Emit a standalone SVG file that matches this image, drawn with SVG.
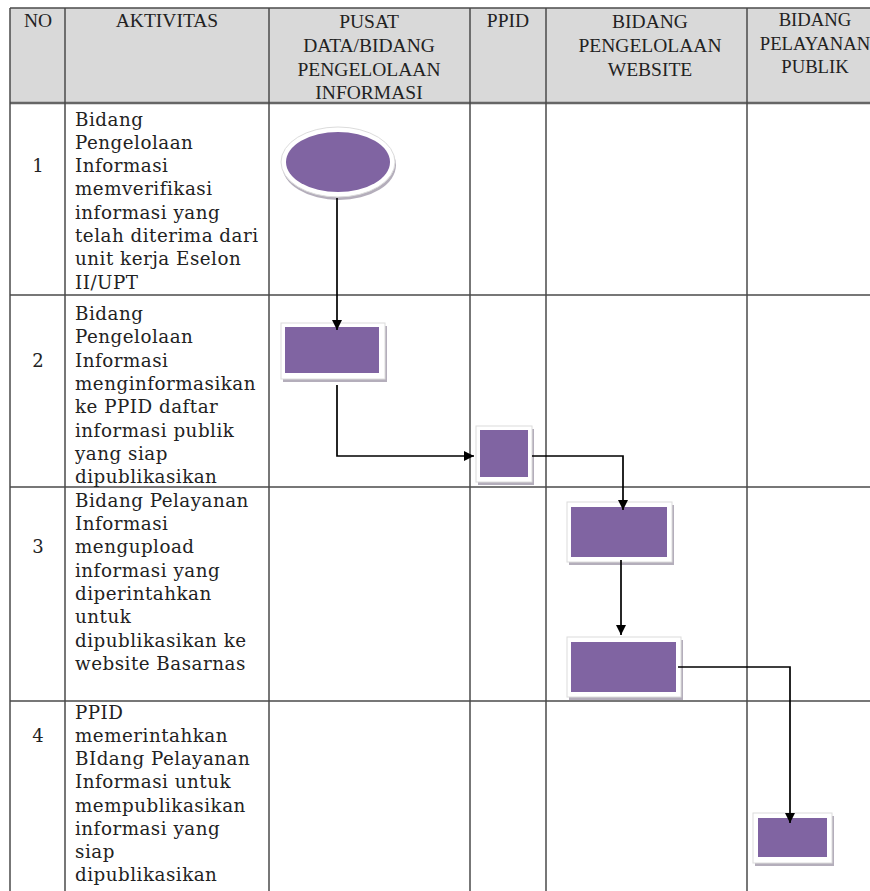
<svg xmlns="http://www.w3.org/2000/svg" width="870" height="891" viewBox="0 0 870 891">
<style>
.grid{stroke:#4a4a4a;stroke-width:1.5;fill:none}
.hd{font-family:"Liberation Serif","Times New Roman",serif;font-size:19.5px;fill:#222;text-anchor:middle}
.hds{font-family:"Liberation Serif","Times New Roman",serif;font-size:18.7px;fill:#222;text-anchor:middle}
.bd{font-family:"DejaVu Serif","Liberation Serif",serif;font-size:18.3px;letter-spacing:0.5px;fill:#222}
.no{font-family:"DejaVu Serif","Liberation Serif",serif;font-size:18px;fill:#222;text-anchor:middle}
.sh{fill:#b4aebb}
.wb{fill:#ffffff;stroke:#dcdcdc;stroke-width:1}
.pu{fill:#8064a2}
.cn{stroke:#000;stroke-width:1.7;fill:none}
</style>
<defs>
<marker id="ah" viewBox="0 0 10 10" refX="10" refY="5" markerWidth="10" markerHeight="10" markerUnits="userSpaceOnUse" orient="auto">
<path d="M0,0 L10,5 L0,10 Z" fill="#000"/>
</marker>
</defs>
<rect width="870" height="891" fill="#ffffff"/>
<g id="table">
<rect x="10" y="8" width="875" height="95" fill="#d9d9d9"/>
<line class="grid" x1="10" y1="8" x2="885" y2="8"/>
<line x1="10" y1="103" x2="885" y2="103" stroke="#666" stroke-width="2.4"/>
<line class="grid" x1="10" y1="295" x2="885" y2="295"/>
<line class="grid" x1="10" y1="487" x2="885" y2="487"/>
<line class="grid" x1="10" y1="701" x2="885" y2="701"/>
<line class="grid" x1="10" y1="8" x2="10" y2="891"/>
<line class="grid" x1="65" y1="8" x2="65" y2="891" stroke="#222"/>
<line class="grid" x1="269" y1="8" x2="269" y2="891"/>
<line class="grid" x1="470" y1="8" x2="470" y2="891"/>
<line class="grid" x1="546" y1="8" x2="546" y2="891"/>
<line class="grid" x1="747" y1="8" x2="747" y2="891"/>
</g>
<g id="header">
<text class="hd" x="38" y="27">NO</text>
<text class="hd" x="167" y="27">AKTIVITAS</text>
<text class="hd" x="369" y="28">PUSAT</text>
<text class="hd" x="369" y="52">DATA/BIDANG</text>
<text class="hd" x="369" y="76">PENGELOLAAN</text>
<text class="hd" x="369" y="99">INFORMASI</text>
<text class="hd" x="508" y="27">PPID</text>
<text class="hd" x="650" y="28">BIDANG</text>
<text class="hd" x="650" y="52">PENGELOLAAN</text>
<text class="hd" x="650" y="76">WEBSITE</text>
<text class="hds" x="815" y="26">BIDANG</text>
<text class="hds" x="815" y="50">PELAYANAN</text>
<text class="hds" x="815" y="73">PUBLIK</text>
</g>
<g id="row1">
<text class="no" x="38" y="172">1</text>
<text class="bd" x="75" y="126">Bidang</text>
<text class="bd" x="75" y="149">Pengelolaan</text>
<text class="bd" x="75" y="172">Informasi</text>
<text class="bd" x="75" y="195">memverifikasi</text>
<text class="bd" x="75" y="219">informasi yang</text>
<text class="bd" x="75" y="242">telah diterima dari</text>
<text class="bd" x="75" y="265">unit kerja Eselon</text>
<text class="bd" x="75" y="289">II/UPT</text>
</g>
<g id="row2">
<text class="no" x="38" y="367">2</text>
<text class="bd" x="75" y="320">Bidang</text>
<text class="bd" x="75" y="343">Pengelolaan</text>
<text class="bd" x="75" y="367">Informasi</text>
<text class="bd" x="75" y="390">menginformasikan</text>
<text class="bd" x="75" y="413">ke PPID daftar</text>
<text class="bd" x="75" y="437">informasi publik</text>
<text class="bd" x="75" y="460">yang siap</text>
<text class="bd" x="75" y="483">dipublikasikan</text>
</g>
<g id="row3">
<text class="no" x="38" y="553">3</text>
<text class="bd" x="75" y="507">Bidang Pelayanan</text>
<text class="bd" x="75" y="530">Informasi</text>
<text class="bd" x="75" y="553">mengupload</text>
<text class="bd" x="75" y="577">informasi yang</text>
<text class="bd" x="75" y="600">diperintahkan</text>
<text class="bd" x="75" y="623">untuk</text>
<text class="bd" x="75" y="647">dipublikasikan ke</text>
<text class="bd" x="75" y="670">website Basarnas</text>
</g>
<g id="row4">
<text class="no" x="38" y="742">4</text>
<text class="bd" x="75" y="719">PPID</text>
<text class="bd" x="75" y="742">memerintahkan</text>
<text class="bd" x="75" y="765">BIdang Pelayanan</text>
<text class="bd" x="75" y="788">Informasi untuk</text>
<text class="bd" x="75" y="812">mempublikasikan</text>
<text class="bd" x="75" y="835">informasi yang</text>
<text class="bd" x="75" y="858">siap</text>
<text class="bd" x="75" y="881">dipublikasikan</text>
</g>
<g id="n1-start">
<ellipse class="sh" cx="339" cy="165" rx="57" ry="35"/>
<ellipse class="wb" cx="338" cy="162" rx="57" ry="35"/>
<ellipse class="pu" cx="338" cy="162" rx="52" ry="30"/>
</g>
<g id="n2-rect">
<rect class="sh" x="283" y="326" width="104" height="56"/>
<rect class="wb" x="281" y="323" width="104" height="56"/>
<rect class="pu" x="285" y="327" width="94" height="46"/>
</g>
<g id="n3-ppid">
<rect class="sh" x="478" y="429" width="56" height="56"/>
<rect class="wb" x="476" y="426" width="56" height="56"/>
<rect class="pu" x="480" y="430" width="48" height="47"/>
</g>
<g id="n4-web1">
<rect class="sh" x="569" y="505" width="105" height="60"/>
<rect class="wb" x="567" y="502" width="105" height="60"/>
<rect class="pu" x="571" y="507" width="96" height="50"/>
</g>
<g id="n5-web2">
<rect class="sh" x="569" y="640" width="114" height="60"/>
<rect class="wb" x="567" y="637" width="114" height="60"/>
<rect class="pu" x="571" y="642" width="105" height="50"/>
</g>
<g id="n6-publik">
<rect class="sh" x="755" y="816" width="79" height="50"/>
<rect class="wb" x="753" y="813" width="79" height="50"/>
<rect class="pu" x="758" y="818" width="69" height="39"/>
</g>
<g id="connectors">
<path class="cn" d="M337,198 L337,330" marker-end="url(#ah)"/>
<path class="cn" d="M337,385 L337,456 L474,456" marker-end="url(#ah)"/>
<path class="cn" d="M532,456 L623,456 L623,510" marker-end="url(#ah)"/>
<path class="cn" d="M621,560 L621,635" marker-end="url(#ah)"/>
<path class="cn" d="M678,667 L790,667 L790,823" marker-end="url(#ah)"/>
</g>
</svg>
